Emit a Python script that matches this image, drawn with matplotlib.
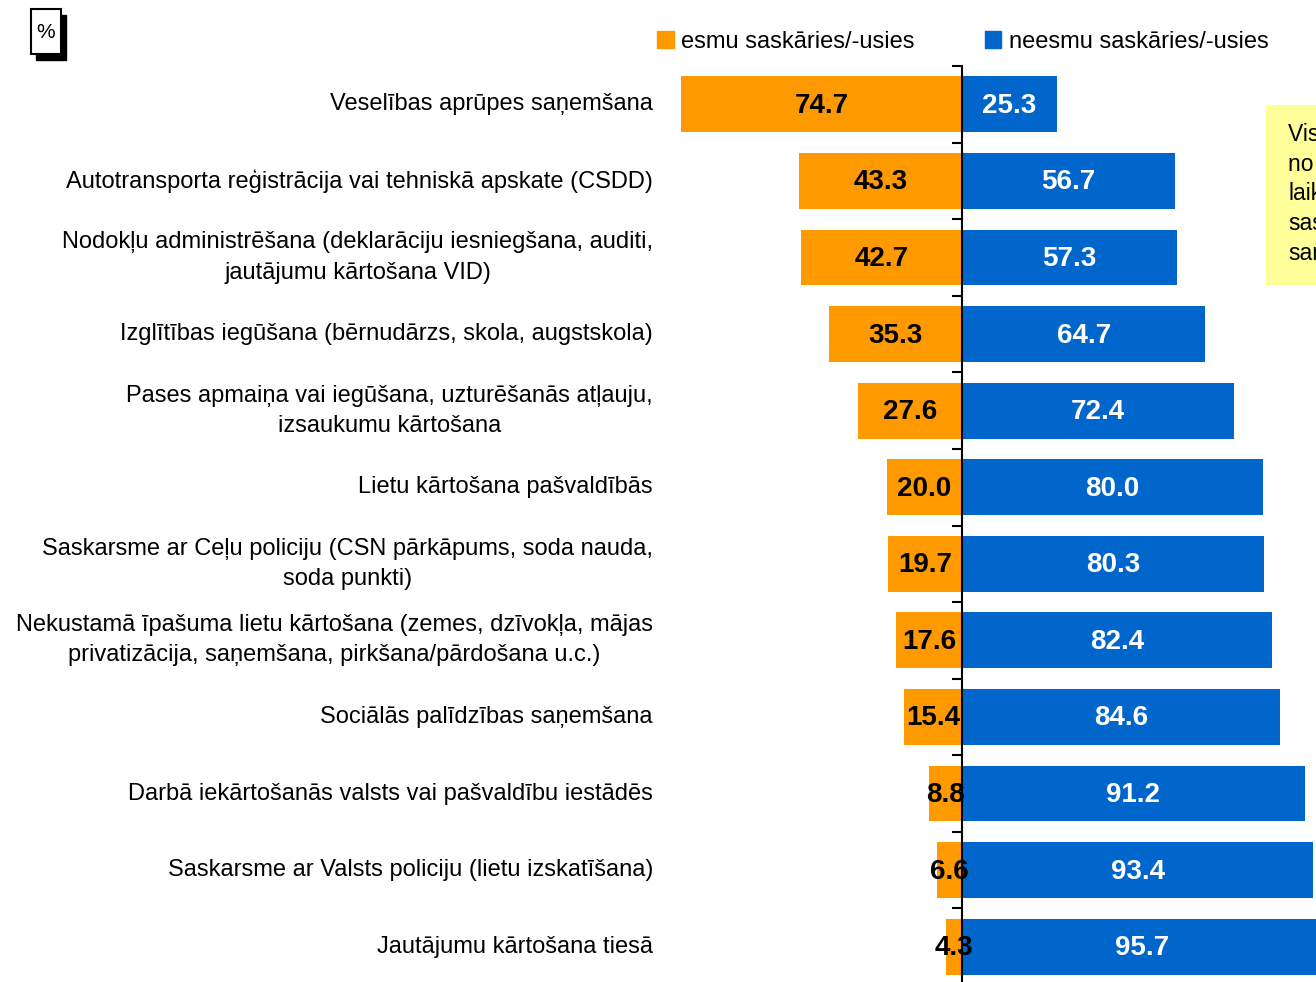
import matplotlib
matplotlib.use("Agg")
import matplotlib.pyplot as plt
import matplotlib.patches as mpatches
import matplotlib.transforms as mtransforms

plt.rcParams['font.family'] = ['Liberation Sans', 'DejaVu Sans']

categories = [
    "Veselības aprūpes saņemšana",
    "Autotransporta reģistrācija vai tehniskā apskate (CSDD)",
    "Nodokļu administrēšana (deklarāciju iesniegšana, auditi,\njautājumu kārtošana VID)",
    "Izglītības iegūšana (bērnudārzs, skola, augstskola)",
    "Pases apmaiņa vai iegūšana, uzturēšanās atļauju,\nizsaukumu kārtošana",
    "Lietu kārtošana pašvaldībās",
    "Saskarsme ar Ceļu policiju (CSN pārkāpums, soda nauda,\nsoda punkti)",
    "Nekustamā īpašuma lietu kārtošana (zemes, dzīvokļa, mājas\nprivatizācija, saņemšana, pirkšana/pārdošana u.c.)",
    "Sociālās palīdzības saņemšana",
    "Darbā iekārtošanās valsts vai pašvaldību iestādēs",
    "Saskarsme ar Valsts policiju (lietu izskatīšana)",
    "Jautājumu kārtošana tiesā",
]
esmu = [74.7, 43.3, 42.7, 35.3, 27.6, 20.0, 19.7, 17.6, 15.4, 8.8, 6.6, 4.3]
neesmu = [25.3, 56.7, 57.3, 64.7, 72.4, 80.0, 80.3, 82.4, 84.6, 91.2, 93.4, 95.7]
series_names = ["esmu saskāries/-usies", "neesmu saskāries/-usies"]
note_text = "Visi respondenti,\nno tiem pēdējā\nlaikā\nsaskārušies\nsaņemot"

ORANGE = "#FF9900"
BLUE = "#0066CC"
LABEL_FS = 17

W, H = 1316, 982
fig = plt.figure(figsize=(W / 100, H / 100), dpi=100)

x0, x1 = -80, 100
ppu = 3.76
ax_left = 962 - (0 - x0) * ppu
ax_width = (x1 - x0) * ppu
ax = fig.add_axes([ax_left / W, -3 / H, ax_width / W, (985 - 66) / H])

n = len(categories)
ypos = list(range(n))
bh = 0.73
ax.barh(ypos, [-v for v in esmu], height=bh, color=ORANGE, zorder=2)
ax.barh(ypos, neesmu, height=bh, color=BLUE, zorder=2)

for i in ypos:
    ax.text(-esmu[i] / 2, i + 0.02, f"{esmu[i]:.1f}", ha="center", va="center",
            fontsize=20, fontweight="bold", color="black", zorder=4)
    ax.text(neesmu[i] / 2, i + 0.02, f"{neesmu[i]:.1f}", ha="center", va="center",
            fontsize=20, fontweight="bold", color="white", zorder=4)

ax.set_xlim(x0, x1)
ax.set_ylim(n - 0.5, -0.5)
for s in ["top", "right", "bottom"]:
    ax.spines[s].set_visible(False)
ax.spines["left"].set_position(("data", 0))
ax.spines["left"].set_linewidth(1.5)
ax.spines["left"].set_zorder(5)
ax.set_xticks([])
ax.set_yticks([i - 0.5 for i in range(n + 1)])
ax.set_yticklabels([])
ax.tick_params(axis="y", direction="out", length=7, width=1.5)
ax.patch.set_visible(False)

trans = mtransforms.blended_transform_factory(fig.transFigure, ax.transData)
for i, lab in enumerate(categories):
    ax.text(653 / W, i, lab, transform=trans, ha="right", va="center",
            multialignment="center", fontsize=LABEL_FS, linespacing=1.48,
            color="black", clip_on=False)

handles = [mpatches.Patch(color=ORANGE, label=series_names[0]),
           mpatches.Patch(color=BLUE, label=series_names[1])]
fig.legend(handles=handles, loc="center left", bbox_to_anchor=(657 / W, 1 - 42 / H),
           ncol=2, frameon=False, fontsize=LABEL_FS, handlelength=0.7, handleheight=0.7,
           handletextpad=0.3, columnspacing=3.0, borderpad=0, borderaxespad=0)

# "%" box with shadow
fig.add_artist(mpatches.Rectangle((36 / W, 1 - 60 / H), 30 / W, 45 / H,
                                  transform=fig.transFigure, facecolor="black",
                                  edgecolor="black"))
fig.add_artist(mpatches.Rectangle((31 / W, 1 - 54 / H), 30 / W, 45 / H,
                                  transform=fig.transFigure, facecolor="white",
                                  edgecolor="black", linewidth=1.5))
fig.text(46 / W, 1 - 32 / H, "%", ha="center", va="center", fontsize=15)

# note box (cut at right edge, as in the reference)
fig.add_artist(mpatches.Rectangle((1266 / W, 1 - 285 / H), 120 / W, 180 / H,
                                  transform=fig.transFigure, facecolor="#FFFF99",
                                  edgecolor="none"))
fig.text(1288 / W, 1 - 123 / H, note_text, ha="left", va="top", fontsize=16.5,
         linespacing=1.37)

fig.savefig("out.png", dpi=100)
